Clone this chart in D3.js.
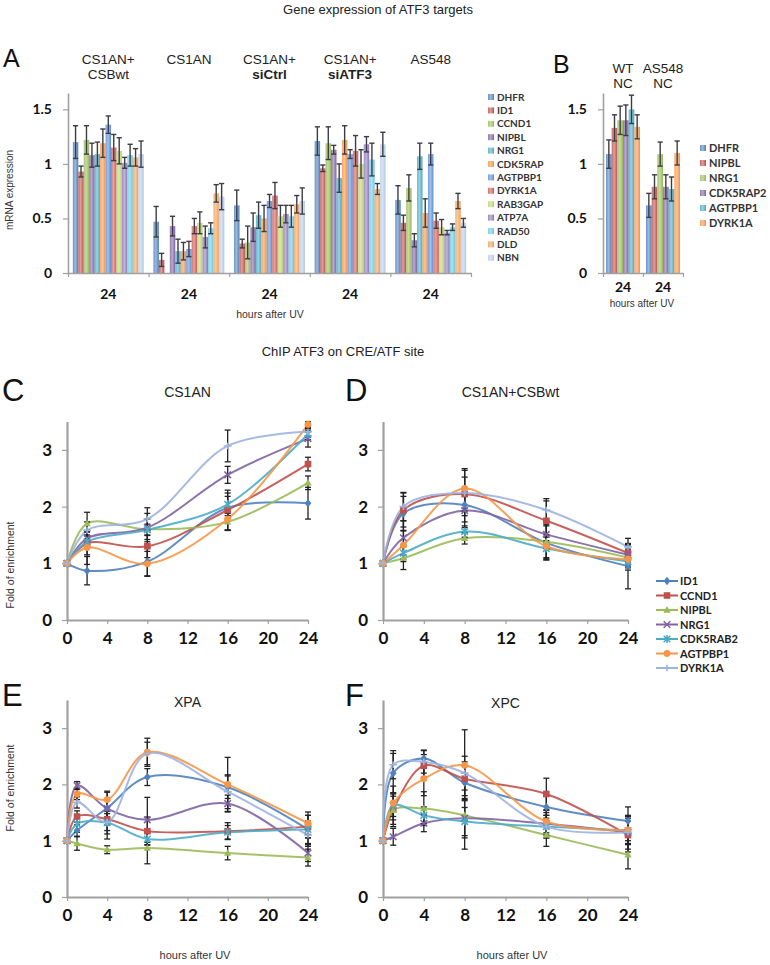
<!DOCTYPE html>
<html><head><meta charset="utf-8">
<script src="https://cdn.jsdelivr.net/npm/d3@7"></script>
<style>body{margin:0;background:#fff}</style>
</head><body>
<svg id="chart" width="770" height="965" xmlns="http://www.w3.org/2000/svg"></svg>
<script>
// ---------------- DATA ----------------
const mainTitle = "Gene expression of ATF3 targets";
const chipTitle = "ChIP ATF3 on CRE/ATF site";
const xLabel = "hours after UV";

// Panel A
const groupsLine1A = ["CS1AN+", "CS1AN", "CS1AN+", "CS1AN+", "AS548"];
const groupsLine2A = ["CSBwt", "", "siCtrl", "siATF3", ""];
const groupsBoldA = [false, false, true, true, false];
const groupTickA = ["24", "24", "24", "24", "24"];
const genesA = ["DHFR","ID1","CCND1","NIPBL","NRG1","CDK5RAP","AGTPBP1","DYRK1A","RAB3GAP","ATP7A","RAD50","DLD","NBN"];
const valuesA = [
  [1.20,0.93,1.22,1.08,1.09,1.19,1.36,1.15,1.12,1.01,1.08,1.06,1.09],
  [0.47,0.12,0.00,0.43,0.20,0.20,0.22,0.43,0.46,0.33,0.41,0.73,0.70],
  [0.62,0.27,0.28,0.42,0.53,0.50,0.66,0.71,0.52,0.54,0.52,0.63,0.66],
  [1.21,0.96,1.19,1.13,0.87,1.22,1.09,1.12,1.00,1.18,1.04,0.77,1.18],
  [0.67,0.46,0.78,0.30,1.07,0.55,1.09,0.48,0.42,0.37,0.42,0.66,0.46]
];
const errorsA = [
  [0.15,0.05,0.13,0.11,0.11,0.13,0.08,0.12,0.12,0.05,0.10,0.08,0.12],
  [0.14,0.06,0.00,0.09,0.11,0.08,0.07,0.07,0.10,0.10,0.05,0.08,0.12],
  [0.14,0.04,0.15,0.13,0.12,0.12,0.06,0.12,0.10,0.08,0.10,0.08,0.12],
  [0.13,0.03,0.15,0.04,0.13,0.13,0.04,0.14,0.13,0.07,0.15,0.05,0.11],
  [0.13,0.07,0.12,0.06,0.12,0.13,0.10,0.07,0.07,0.02,0.03,0.07,0.04]
];
const colorsA = ["#4F81BD","#C0504D","#9BBB59","#8064A2","#4BACC6","#F79646","#5A8FD8","#D05A56","#BCD56E","#8F78B8","#6CCAE2","#F4A155","#B8CCEA"];
const yTicksBar = [0, 0.5, 1, 1.5];

// Panel B
const groupsLine1B = ["WT", "AS548"];
const groupsLine2B = ["NC", "NC"];
const groupTickB = ["24", "24"];
const genesB = ["DHFR","NIPBL","NRG1","CDK5RAP2","AGTPBP1","DYRK1A"];
const valuesB = [
  [1.09,1.33,1.40,1.40,1.50,1.34],
  [0.62,0.79,1.09,0.79,0.77,1.10]
];
const errorsB = [
  [0.13,0.12,0.13,0.14,0.13,0.11],
  [0.11,0.11,0.11,0.11,0.11,0.11]
];
const colorsB = ["#4F81BD","#C0504D","#9BBB59","#8064A2","#4BACC6","#F79646"];

// Panels C-F (line charts)
const genesL = ["ID1","CCND1","NIPBL","NRG1","CDK5RAB2","AGTPBP1","DYRK1A"];
const colorsL = ["#4F81BD","#C0504D","#9BBB59","#8064A2","#4BACC6","#F79646","#9DB3E0"];
const markersL = ["diamond","square","triangle","x","star","circle","plus"];
const xTicksL = [0, 4, 8, 12, 16, 20, 24];
const yTicksL = [0, 1, 2, 3];

const timesC = [0, 2, 8, 16, 24];
const valuesC = [
  [1,0.87,1.03,1.98,2.06],
  [1,1.35,1.30,1.94,2.75],
  [1,1.70,1.60,1.73,2.42],
  [1,1.44,1.63,2.56,3.20],
  [1,1.38,1.59,2.04,3.28],
  [1,1.28,0.99,1.78,3.45],
  [1,1.58,1.78,3.07,3.32]
];
const errorsC = [
  [0,0.25,0.25,0.20,0.28],
  [0,0.20,0.20,0.35,0.12],
  [0,0.20,0.18,0.15,0.12],
  [0,0.12,0.25,0.15,0.15],
  [0,0.10,0.10,0.20,0.10],
  [0,0.30,0.22,0.20,0.05],
  [0,0.15,0.20,0.28,0.10]
];

const timesD = [0, 2, 8, 16, 24];
const valuesD = [
  [1,1.88,2.03,1.36,0.95],
  [1,1.94,2.22,1.75,1.18],
  [1,1.09,1.44,1.38,1.10],
  [1,1.45,1.93,1.51,1.15],
  [1,1.18,1.56,1.26,1.03],
  [1,1.32,2.32,1.30,1.07],
  [1,2.00,2.24,1.94,1.29]
];
const errorsD = [
  [0,0.30,0.30,0.30,0.40],
  [0,0.30,0.30,0.35,0.15],
  [0,0.20,0.10,0.30,0.15],
  [0,0.30,0.30,0.25,0.15],
  [0,0.15,0.10,0.20,0.15],
  [0,0.25,0.35,0.20,0.15],
  [0,0.25,0.40,0.20,0.15]
];

const timesE = [0, 1, 4, 8, 16, 24];
const valuesE = [
  [1,1.18,1.58,2.13,1.95,1.20],
  [1,1.43,1.38,1.17,1.17,1.25],
  [1,0.95,0.84,0.87,0.78,0.70],
  [1,1.98,1.57,1.37,1.66,0.78],
  [1,1.30,1.32,1.03,1.15,1.20],
  [1,1.83,1.73,2.57,2.00,1.31],
  [1,1.68,1.33,2.55,1.87,1.10]
];
const errorsE = [
  [0,0.10,0.30,0.15,0.20,0.25],
  [0,0.10,0.35,0.25,0.15,0.20],
  [0,0.12,0.07,0.28,0.12,0.15],
  [0,0.07,0.15,0.40,0.15,0.15],
  [0,0.15,0.20,0.10,0.12,0.15],
  [0,0.10,0.13,0.25,0.48,0.20],
  [0,0.10,0.15,0.20,0.30,0.20]
];

const timesF = [0, 1, 4, 8, 16, 24];
const valuesF = [
  [1,2.20,2.46,2.03,1.60,1.35],
  [1,1.55,2.33,2.10,1.83,1.10],
  [1,1.54,1.57,1.45,1.10,0.75],
  [1,1.07,1.31,1.40,1.30,1.15],
  [1,1.63,1.45,1.34,1.25,1.18],
  [1,1.67,2.10,2.34,1.34,1.19],
  [1,2.35,2.40,2.20,1.25,1.15]
];
const errorsF = [
  [0,0.35,0.15,0.30,0.20,0.25],
  [0,0.30,0.20,0.30,0.28,0.30],
  [0,0.25,0.30,0.60,0.20,0.25],
  [0,0.15,0.15,0.35,0.20,0.30],
  [0,0.20,0.15,0.25,0.20,0.25],
  [0,0.30,0.30,0.63,0.20,0.25],
  [0,0.25,0.20,0.30,0.20,0.20]
];

// ---------------- DRAWING ----------------
const svg = d3.select("#chart");
const defs = svg.append("defs");
const SANS = "'Liberation Sans', Arial, sans-serif";
const NUM = "Lato, 'Open Sans', sans-serif";

function gradId(color) {
  const id = "g" + color.slice(1);
  if (defs.select("#" + id).empty()) {
    const lg = defs.append("linearGradient").attr("id", id)
      .attr("x1", 0).attr("x2", 1).attr("y1", 0).attr("y2", 0);
    lg.append("stop").attr("offset", "0%").attr("stop-color", d3.interpolateRgb(color, "#fff")(0.15));
    lg.append("stop").attr("offset", "45%").attr("stop-color", d3.interpolateRgb(color, "#fff")(0.45));
    lg.append("stop").attr("offset", "100%").attr("stop-color", d3.interpolateRgb(color, "#000")(0.02));
  }
  return "url(#" + id + ")";
}

function text(x, y, str, opts = {}) {
  const t = svg.append("text").attr("x", x).attr("y", y).text(str)
    .attr("font-family", opts.family || SANS)
    .attr("font-size", opts.size || 12)
    .attr("font-weight", opts.weight || "normal")
    .attr("fill", opts.fill || "#222")
    .attr("text-anchor", opts.anchor || "middle");
  if (opts.rotate) t.attr("transform", `rotate(-90,${x},${y})`);
  return t;
}

function styleAxis(sel, numSize) {
  sel.select(".domain").attr("stroke", "#a0a0a0").attr("stroke-width", 1.6);
  sel.selectAll(".tick line").attr("stroke", "#a0a0a0").attr("stroke-width", 1.2);
  sel.selectAll(".tick text").attr("font-family", NUM).attr("font-weight", "bold")
    .attr("font-size", numSize).attr("fill", "#111");
}

// Titles
text(378, 14, mainTitle, { size: 13 });
text(343, 356, chipTitle, { size: 13 });

// Bar panel function
function barPanel(cfg) {
  const y = d3.scaleLinear().domain([0, 1.65]).range([273, 93]);
  const nG = cfg.values.length;
  const gx = d3.scaleBand().domain(d3.range(nG)).range([cfg.x0, cfg.x1])
    .paddingInner(cfg.padIn).paddingOuter(cfg.padIn / 2);
  const bx = d3.scaleBand().domain(cfg.genes).range([0, gx.bandwidth()]);
  const g = svg.append("g");

  // bars
  cfg.values.forEach((row, gi) => {
    const gg = g.append("g").attr("transform", `translate(${gx(gi)},0)`);
    gg.selectAll("rect").data(row).join("rect")
      .attr("x", (d, i) => bx(cfg.genes[i]))
      .attr("width", bx.bandwidth())
      .attr("y", d => y(d))
      .attr("height", d => y(0) - y(d))
      .attr("fill", (d, i) => gradId(cfg.colors[i]));
    // error bars
    row.forEach((v, i) => {
      const e = cfg.errors[gi][i];
      if (!e) return;
      const cx = bx(cfg.genes[i]) + bx.bandwidth() / 2;
      gg.append("line").attr("x1", cx).attr("x2", cx).attr("y1", y(v - e)).attr("y2", y(v + e))
        .attr("stroke", "#3c3c46").attr("stroke-width", 1.4);
      [v - e, v + e].forEach(w => gg.append("line").attr("x1", cx - 2.6).attr("x2", cx + 2.6)
        .attr("y1", y(w)).attr("y2", y(w)).attr("stroke", "#3c3c46").attr("stroke-width", 1.4));
    });
  });

  // y axis
  g.append("g").attr("transform", `translate(${cfg.x0},0)`)
    .call(d3.axisLeft(y).tickValues(yTicksBar).tickSize(5).tickSizeOuter(0).tickPadding(11).tickFormat(d => String(d)))
    .call(s => styleAxis(s, 14));
  // x axis with group boundaries
  const xb = d3.scaleLinear().domain([0, nG]).range([cfg.x0, cfg.x1]);
  g.append("g").attr("transform", `translate(0,273)`)
    .call(d3.axisBottom(xb).tickValues(d3.range(0, nG + 1)).tickSize(4).tickSizeOuter(0).tickFormat(""))
    .call(s => styleAxis(s, 14));
  // group tick labels
  cfg.ticks.forEach((t, gi) => text(gx(gi) + gx.bandwidth() / 2, cfg.tickY, t, { family: NUM, weight: "bold", size: 14, fill: "#111" }));
  // headers
  cfg.line1.forEach((t, gi) => text(gx(gi) + gx.bandwidth() / 2 + (cfg.hdx || 0), cfg.h1, t, { size: 13.5 }));
  cfg.line2.forEach((t, gi) => text(gx(gi) + gx.bandwidth() / 2 + (cfg.hdx || 0), cfg.h2, t,
    { size: 13.5, weight: cfg.bold && cfg.bold[gi] ? "bold" : "normal" }));
  // legend
  cfg.genes.forEach((name, i) => {
    const ly = cfg.legY + i * cfg.legStep;
    g.append("rect").attr("x", cfg.legX).attr("y", ly - 3).attr("width", 6).attr("height", 6)
      .attr("fill", gradId(cfg.colors[i]));
    text(cfg.legX + 9, ly + 3.6, name, { family: NUM, weight: "bold", size: cfg.legSize, anchor: "start", fill: "#333" });
  });
}

barPanel({ x0: 68, x1: 471, values: valuesA, errors: errorsA, genes: genesA, colors: colorsA, padIn: 0.12,
  ticks: groupTickA, tickY: 299, line1: groupsLine1A, line2: groupsLine2A, bold: groupsBoldA, h1: 64, h2: 79,
  legX: 488, legY: 97, legStep: 13.4, legSize: 10 });
barPanel({ x0: 603, x1: 683, values: valuesB, errors: errorsB, genes: genesB, colors: colorsB, padIn: 0.15,
  ticks: groupTickB, tickY: 292, line1: groupsLine1B, line2: groupsLine2B, h1: 73, h2: 88, hdx: 0,
  legX: 700, legY: 148, legStep: 15, legSize: 11 });

text(13, 190, "mRNA expression", { size: 10, rotate: true, fill: "#333" });
text(270, 318, xLabel, { size: 10.5, fill: "#333" });
text(642, 307, xLabel, { size: 10, fill: "#333" });
text(3, 67, "A", { size: 25, anchor: "start", fill: "#111" });
text(553, 73, "B", { size: 25, anchor: "start", fill: "#111" });

// Marker drawing
function drawMarker(g, type, cx, cy, color) {
  const m = g.append("g").attr("transform", `translate(${cx},${cy})`);
  const r = 3.3;
  if (type === "diamond") m.append("path").attr("d", `M0,${-r * 1.3}L${r},0L0,${r * 1.3}L${-r},0Z`).attr("fill", color);
  else if (type === "square") m.append("rect").attr("x", -r).attr("y", -r).attr("width", 2 * r).attr("height", 2 * r).attr("fill", color);
  else if (type === "triangle") m.append("path").attr("d", `M0,${-r * 1.2}L${r * 1.1},${r * 0.8}L${-r * 1.1},${r * 0.8}Z`).attr("fill", color);
  else if (type === "circle") m.append("circle").attr("r", r * 1.05).attr("fill", color);
  else if (type === "x") m.append("path").attr("d", `M${-r},${-r}L${r},${r}M${-r},${r}L${r},${-r}`).attr("stroke", color).attr("stroke-width", 1.6);
  else if (type === "star") m.append("path").attr("d", `M${-r},${-r}L${r},${r}M${-r},${r}L${r},${-r}M0,${-r * 1.2}L0,${r * 1.2}`).attr("stroke", color).attr("stroke-width", 1.6);
  else if (type === "plus") m.append("path").attr("d", `M${-r * 1.2},0L${r * 1.2},0M0,${-r}L0,${r}`).attr("stroke", color).attr("stroke-width", 1.6);
}

function linePanel(cfg) {
  const x = d3.scaleLinear().domain([0, 24]).range([cfg.x0, cfg.x1]);
  const y = d3.scaleLinear().domain([0, 3.5]).range([cfg.y0, cfg.y0 - 3.5 * cfg.unit]);
  const g = svg.append("g");
  g.append("g").attr("transform", `translate(${cfg.x0},0)`)
    .call(d3.axisLeft(y).tickValues(yTicksL).tickSize(5).tickSizeOuter(0).tickPadding(10).tickFormat(d3.format("d")))
    .call(s => styleAxis(s, 17));
  g.append("g").attr("transform", `translate(0,${cfg.y0})`)
    .call(d3.axisBottom(x).tickValues(xTicksL).tickSize(4).tickSizeOuter(0).tickPadding(8).tickFormat(d3.format("d")))
    .call(s => styleAxis(s, 17));
  g.selectAll(".domain").attr("stroke-width", 2.2);

  const line = d3.line().x(d => x(d[0])).y(d => y(d[1])).curve(d3.curveCatmullRom.alpha(0.5));
  const series = genesL.map((name, i) => cfg.times.map((t, j) => [t, cfg.values[i][j], cfg.errors[i][j]]));
  series.forEach((pts, i) => {
    g.append("path").datum(pts).attr("d", line).attr("fill", "none")
      .attr("stroke", colorsL[i]).attr("stroke-width", 2).attr("stroke-opacity", 0.9);
  });
  series.forEach(pts => pts.forEach(p => {
    if (!p[2]) return;
    const cx = x(p[0]);
    g.append("line").attr("x1", cx).attr("x2", cx).attr("y1", y(p[1] - p[2])).attr("y2", y(p[1] + p[2]))
      .attr("stroke", "#222").attr("stroke-width", 1.3);
    [p[1] - p[2], p[1] + p[2]].forEach(w => g.append("line").attr("x1", cx - 3).attr("x2", cx + 3)
      .attr("y1", y(w)).attr("y2", y(w)).attr("stroke", "#222").attr("stroke-width", 1.3));
  }));
  series.forEach((pts, i) => pts.forEach(p => drawMarker(g, markersL[i], x(p[0]), y(p[1]), colorsL[i])));

  text((cfg.x0 + cfg.x1) / 2 + (cfg.tdx || 0), cfg.titleY, cfg.title, { size: 14 });
  text(cfg.letterX, cfg.letterY, cfg.letter, { size: 31, anchor: "start", fill: "#111" });
}

linePanel({ x0: 67, x1: 308, y0: 620, unit: 56.7, times: timesC, values: valuesC, errors: errorsC,
  title: "CS1AN", titleY: 397, tdx: 0, letter: "C", letterX: 2, letterY: 401 });
linePanel({ x0: 383, x1: 628, y0: 620, unit: 56.7, times: timesD, values: valuesD, errors: errorsD,
  title: "CS1AN+CSBwt", titleY: 397, tdx: 5, letter: "D", letterX: 345, letterY: 401 });
linePanel({ x0: 67, x1: 308, y0: 897, unit: 56.3, times: timesE, values: valuesE, errors: errorsE,
  title: "XPA", titleY: 707, letter: "E", letterX: 2, letterY: 706 });
linePanel({ x0: 383, x1: 628, y0: 897, unit: 56.3, times: timesF, values: valuesF, errors: errorsF,
  title: "XPC", titleY: 708, letter: "F", letterX: 345, letterY: 706 });

text(14, 565, "Fold of enrichment", { size: 10.5, rotate: true, fill: "#333" });
text(14, 788, "Fold of enrichment", { size: 10.5, rotate: true, fill: "#333" });
text(195, 959, xLabel, { size: 11, fill: "#333" });
text(512, 959, xLabel, { size: 11, fill: "#333" });

// line legend
genesL.forEach((name, i) => {
  const ly = 581 + i * 14.5;
  svg.append("line").attr("x1", 656).attr("x2", 678).attr("y1", ly).attr("y2", ly)
    .attr("stroke", colorsL[i]).attr("stroke-width", 2);
  drawMarker(svg, markersL[i], 667, ly, colorsL[i]);
  text(680, ly + 4, name, { family: NUM, weight: "bold", size: 11, anchor: "start", fill: "#222" });
});
</script>
</body></html>
